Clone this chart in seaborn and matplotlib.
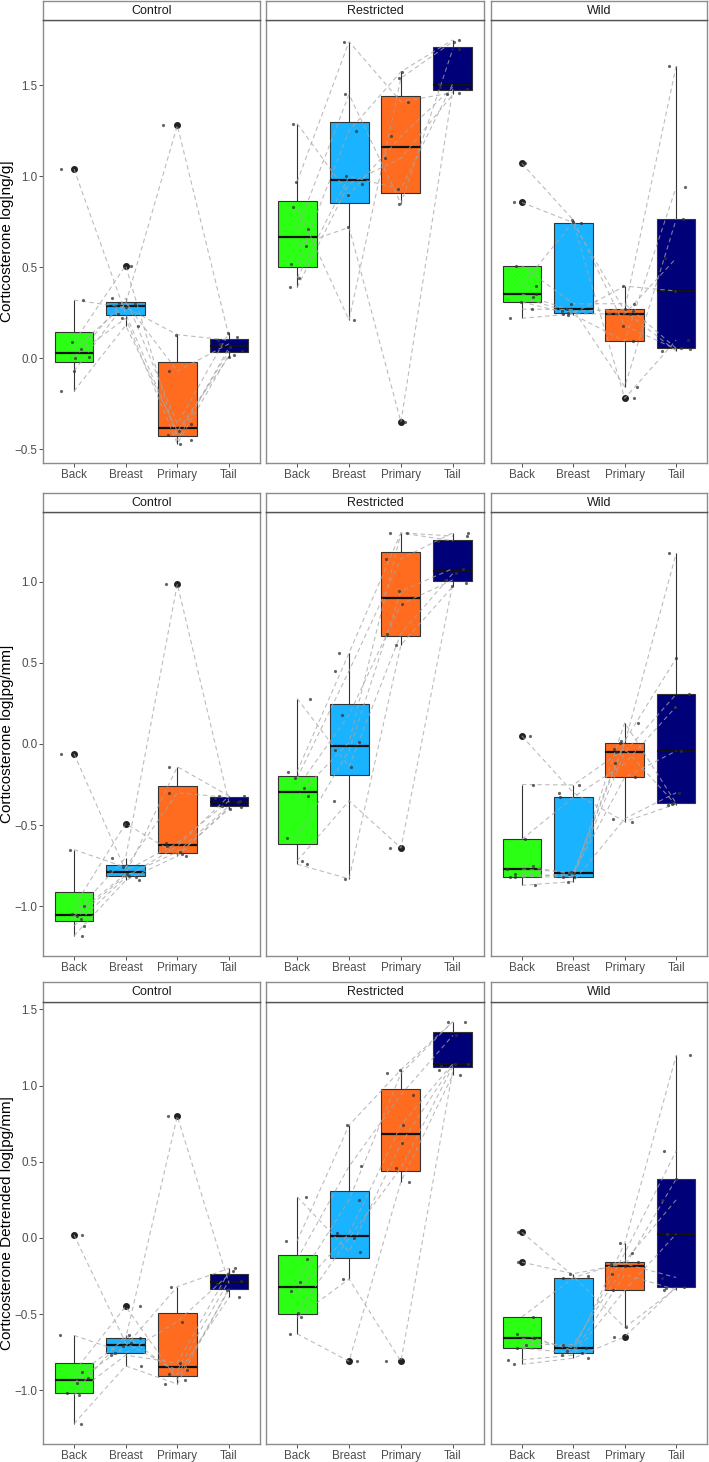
import numpy as np
import pandas as pd
import matplotlib
matplotlib.use("Agg")
import matplotlib.pyplot as plt
import seaborn as sns

sns.set_theme(style="white")
plt.rcParams["font.family"] = ["Liberation Sans", "DejaVu Sans"]

TISSUES = ["Back", "Breast", "Primary", "Tail"]
GROUPS = ["Control", "Restricted", "Wild"]
PALETTE = ["#2bff14", "#1ab3ff", "#ff6b1f", "#000078"]

# each list position is one individual (joined by a dashed line)
# row 1: log[ng/g]
ng_control = {
    "Back":    [1.04, 0.32, 0.09, 0.05, 0.01, 0.00, -0.07, -0.18],
    "Breast":  [0.245, 0.28, 0.51, 0.30, 0.22, 0.33, 0.305, 0.18],
    "Primary": [-0.42, 0.13, -0.45, 1.28, -0.47, -0.36, -0.07, -0.40],
    "Tail":    [0.04, 0.10, 0.06, 0.12, 0.02, 0.14, 0.08, 0.01],
}
ng_restricted = {
    "Back":    [1.29, 0.97, 0.83, 0.71, 0.62, 0.52, 0.44, 0.39],
    "Breast":  [0.90, 1.74, 0.21, 1.45, 0.72, 1.25, 1.00, 0.96],
    "Primary": [1.22, 1.41, 1.54, 0.85, -0.35, 1.575, 0.93, 1.10],
    "Tail":    [1.49, 1.46, 1.74, 1.70, 1.48, 1.75, 1.51, 1.45],
}
ng_wild = {
    "Back":    [1.071, 0.857, 0.40, 0.353, 0.335, 0.31, 0.27, 0.22, 0.509],
    "Breast":  [0.76, 0.745, 0.75, 0.26, 0.247, 0.24, 0.269, 0.245, 0.30],
    "Primary": [0.18, 0.26, -0.22, 0.269, 0.397, 0.095, -0.156, 0.244, 0.30],
    "Tail":    [0.05, 0.04, 0.10, 1.606, 0.37, 0.94, 0.764, 0.55, 0.055],
}

# row 2: log[pg/mm]
mm_control = {
    "Back":    [-0.06, -0.65, -1.00, -1.045, -1.06, -1.08, -1.12, -1.18],
    "Breast":  [-0.78, -0.76, -0.49, -0.70, -0.80, -0.81, -0.82, -0.84],
    "Primary": [-0.61, -0.30, -0.68, 0.985, -0.14, -0.665, -0.63, -0.69],
    "Tail":    [-0.35, -0.33, -0.40, -0.36, -0.32, -0.38, -0.32, -0.39],
}
mm_restricted = {
    "Back":    [0.28, -0.17, -0.21, -0.27, -0.32, -0.58, -0.72, -0.74],
    "Breast":  [-0.14, 0.56, 0.45, 0.18, 0.01, -0.04, -0.35, -0.83],
    "Primary": [0.68, 1.30, 1.14, 0.86, 1.30, 0.94, -0.64, 0.61],
    "Tail":    [1.05, 1.28, 1.30, 1.01, 1.25, 1.08, 0.99, 0.97],
}
mm_wild = {
    "Back":    [0.05, -0.25, -0.587, -0.75, -0.77, -0.80, -0.816, -0.82, -0.87],
    "Breast":  [-0.30, -0.252, -0.328, -0.80, -0.79, -0.816, -0.82, -0.796, -0.847],
    "Primary": [-0.478, -0.03, -0.12, 0.004, 0.02, -0.051, 0.131, -0.205, -0.46],
    "Tail":    [-0.37, -0.375, 0.23, 1.173, 0.527, 0.306, -0.365, -0.043, -0.30],
}

# row 3: detrended log[pg/mm]
det_control = {
    "Back":    [0.02, -0.64, -0.88, -0.92, -0.95, -1.015, -1.03, -1.22],
    "Breast":  [-0.69, -0.755, -0.45, -0.66, -0.71, -0.64, -0.77, -0.84],
    "Primary": [-0.87, -0.55, -0.93, 0.80, -0.32, -0.895, -0.82, -0.96],
    "Tail":    [-0.28, -0.24, -0.34, -0.30, -0.20, -0.39, -0.22, -0.33],
}
det_restricted = {
    "Back":    [0.27, -0.02, -0.14, -0.29, -0.35, -0.49, -0.52, -0.63],
    "Breast":  [-0.09, 0.74, 0.47, 0.25, 0.03, 0.00, -0.27, -0.81],
    "Primary": [0.62, 1.105, 0.94, 1.08, 0.74, 0.46, -0.81, 0.37],
    "Tail":    [1.14, 1.42, 1.33, 1.42, 1.145, 1.127, 1.10, 1.072],
}
det_wild = {
    "Back":    [0.037, -0.159, -0.519, -0.63, -0.66, -0.70, -0.725, -0.80, -0.83],
    "Breast":  [-0.25, -0.235, -0.261, -0.74, -0.721, -0.70, -0.754, -0.77, -0.79],
    "Primary": [-0.588, -0.17, -0.155, -0.035, -0.10, -0.185, -0.24, -0.344, -0.649],
    "Tail":    [-0.33, -0.26, 0.25, 1.198, 0.571, 0.386, -0.34, 0.026, -0.322],
}

ROWS = [
    ("Corticosterone log[ng/g]", [ng_control, ng_restricted, ng_wild],
     (-0.575, 1.859), [-0.5, 0.0, 0.5, 1.0, 1.5]),
    ("Corticosterone log[pg/mm]", [mm_control, mm_restricted, mm_wild],
     (-1.305, 1.428), [-1.0, -0.5, 0.0, 0.5, 1.0]),
    ("Corticosterone Detrended log[pg/mm]", [det_control, det_restricted, det_wild],
     (-1.353, 1.549), [-1.0, -0.5, 0.0, 0.5, 1.0, 1.5]),
]

W, H = 709, 1462
COL_X = [(43, 217), (266, 218), (491, 216)]
ROW_Y = [(1, 20, 463), (493, 512, 956), (982, 1002, 1444)]  # strip top, plot top, plot bottom
BORDER = "#8c8c8c"


def frac(x, y, w, h):
    return [x / W, 1 - (y + h) / H, w / W, h / H]


np.random.seed(7)
fig = plt.figure(figsize=(W / 100, H / 100), dpi=100)

for r, (ylabel, panels, ylim, yticks) in enumerate(ROWS):
    s_top, p_top, p_bot = ROW_Y[r]
    for c, data in enumerate(panels):
        x0, w = COL_X[c]
        df = pd.DataFrame(data)
        df["id"] = range(len(df))
        long = df.melt(id_vars="id", var_name="tissue", value_name="value")

        ax = fig.add_axes(frac(x0, p_top, w, p_bot - p_top))
        sns.boxplot(data=long, x="tissue", y="value", hue="tissue", order=TISSUES,
                    hue_order=TISSUES, palette=PALETTE, saturation=1, width=0.75,
                    linewidth=0.8, linecolor="#333333", legend=False, ax=ax,
                    showcaps=False,
                    flierprops=dict(marker="o", markersize=4, markerfacecolor="#222222",
                                    markeredgecolor="#222222"),
                    medianprops=dict(color="#111111", linewidth=1.6))
        for _, row in df.iterrows():
            ax.plot(range(len(TISSUES)), [row[t] for t in TISSUES], ls=(0, (4, 3)),
                    color="#a6a6a6", lw=0.8, alpha=0.75, zorder=3)
        sns.stripplot(data=long, x="tissue", y="value", order=TISSUES, color="#333333",
                      size=2.3, alpha=0.75, jitter=0.3, ax=ax, zorder=4)

        ax.set_xlim(-0.6, 3.6)
        ax.set_ylim(*ylim)
        ax.set_xlabel("")
        ax.set_ylabel("")
        ax.set_yticks(yticks)
        ax.tick_params(axis="both", length=3, width=0.6, color="#333333",
                       labelcolor="#4d4d4d", labelsize=8.4, pad=1.0, bottom=True, left=True)
        if c > 0:
            ax.tick_params(axis="y", left=False, labelleft=False)
        else:
            ax.set_yticklabels([f"{t:.1f}".replace("-", "\u2212") for t in yticks])
        for sp in ax.spines.values():
            sp.set_color(BORDER)
            sp.set_linewidth(1.0)

        sax = fig.add_axes(frac(x0, s_top, w, p_top - s_top))
        sax.set_xticks([])
        sax.set_yticks([])
        sax.set_facecolor("white")
        for sp in sax.spines.values():
            sp.set_color(BORDER)
            sp.set_linewidth(1.0)
        sax.spines["bottom"].set_color("#555555")
        sax.text(0.5, 0.5, GROUPS[c], ha="center", va="center", fontsize=9,
                 color="#1a1a1a", transform=sax.transAxes)

    fig.text(7.5 / W, 1 - ((p_top + p_bot) / 2) / H, ylabel, rotation=90,
             ha="center", va="center", fontsize=11, color="black")

fig.savefig("out.png", dpi=100, facecolor="white")
